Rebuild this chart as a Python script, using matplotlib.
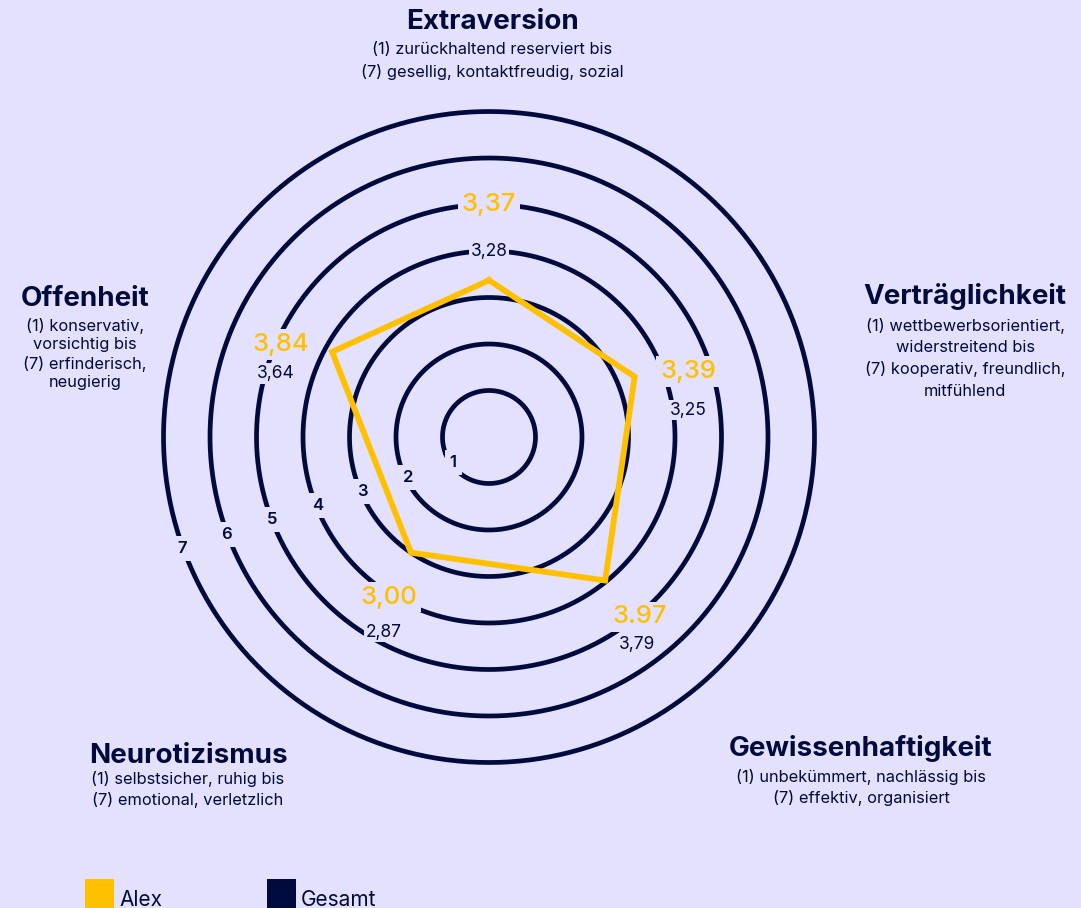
import numpy as np
import matplotlib
matplotlib.use('Agg')
import matplotlib.pyplot as plt
from matplotlib.patches import Rectangle

# data
categories = ['Extraversion', 'Verträglichkeit', 'Gewissenhaftigkeit', 'Neurotizismus', 'Offenheit']
descriptions = [
    ['(1) zurückhaltend reserviert bis', '(7) gesellig, kontaktfreudig, sozial'],
    ['(1) wettbewerbsorientiert,', 'widerstreitend bis', '(7) kooperativ, freundlich,', 'mitfühlend'],
    ['(1) unbekümmert, nachlässig bis', '(7) effektiv, organisiert'],
    ['(1) selbstsicher, ruhig bis', '(7) emotional, verletzlich'],
    ['(1) konservativ,', 'vorsichtig bis', '(7) erfinderisch,', 'neugierig'],
]
alex = [3.37, 3.39, 3.97, 3.00, 3.84]
gesamt = [3.28, 3.25, 3.79, 2.87, 3.64]
alex_text = ['3,37', '3,39', '3.97', '3,00', '3,84']
gesamt_text = ['3,28', '3,25', '3,79', '2,87', '3,64']
rings = [1, 2, 3, 4, 5, 6, 7]

BG = '#E3E1FD'
NAVY = '#000A3C'
GOLD = '#FFC000'
plt.rcParams['font.family'] = ['Inter', 'DejaVu Sans']

W, H = 1081, 908
fig = plt.figure(figsize=(W / 100, H / 100), dpi=100, facecolor=BG)

# polar axes: centre at (489, 437) px, 46.5 px per unit
cx, cy, unit = 489, 437, 46.5
R = 7 * unit
ax = fig.add_axes([(cx - R) / W, (H - cy - R) / H, 2 * R / W, 2 * R / H], projection='polar')
ax.set_ylim(0, 7)
ax.set_axis_off()
ax.patch.set_alpha(0)

# axis directions as they sit in the picture
axis_deg = [90, 22.5, -51, -124, 151.5]
theta = np.deg2rad(axis_deg)

# ring seam hidden under the ring-number boxes
t0 = np.deg2rad(199)
t = np.linspace(t0, t0 + 2 * np.pi + 0.05, 600)
for k in rings:
    ax.plot(t, np.full_like(t, k), color=NAVY, lw=3.4, solid_capstyle='butt',
            clip_on=False, zorder=2)

ax.plot(np.append(theta, theta[0]), alex + alex[:1], color=GOLD, lw=4.2,
        solid_joinstyle='miter', clip_on=False, zorder=4)

# ring numbers
for k in rings:
    ax.annotate(str(k), xy=(np.deg2rad(197.5), k * 1.02), xytext=(6.7, -8.4),
                textcoords='offset points', ha='center', va='center', fontsize=12,
                color=NAVY, fontweight='semibold', zorder=3, annotation_clip=False,
                bbox=dict(boxstyle='square,pad=0.3', fc=BG, ec='none'))

# value labels
lab_deg = [90, 18.3, -50, -122, 156]
lab_r = [4.99, 4.51, 5.05, 4.06, 4.89]
ges_off = [(0, -47), (0, -39), (-3, -28), (-5, -35), (-6, -29)]
for i in range(len(categories)):
    ax.annotate(alex_text[i], xy=(np.deg2rad(lab_deg[i]), lab_r[i]), ha='center', va='center',
                fontsize=18.5, color=GOLD, fontweight='medium', zorder=5,
                bbox=dict(boxstyle='square,pad=0.15', fc=BG, ec='none'))
    ax.annotate(gesamt_text[i], xy=(np.deg2rad(lab_deg[i]), lab_r[i]),
                xytext=(ges_off[i][0] * 0.72, ges_off[i][1] * 0.72), textcoords='offset points',
                ha='center', va='center', fontsize=12.5, color=NAVY, zorder=5,
                bbox=dict(boxstyle='square,pad=0.1', fc=BG, ec='none'))

# category titles and descriptions (pixel positions)
title_pos = [(492, 22), (965, 297), (861, 748), (188, 756), (85, 299)]
first_desc = [50, 326, 777, 779, 326]
line_gap = [22, 21.7, 21, 21, 19]
for i, name in enumerate(categories):
    x, y = title_pos[i]
    fig.text(x / W, 1 - y / H, name, ha='center', va='center', fontsize=20,
             fontweight='bold', color=NAVY)
    for j, line in enumerate(descriptions[i]):
        yy = first_desc[i] + j * line_gap[i]
        fig.text(x / W, 1 - yy / H, line, ha='center', va='center', fontsize=11.8,
                 color=NAVY)

# legend
for x0, col, name in [(85, GOLD, 'Alex'), (267, NAVY, 'Gesamt')]:
    fig.patches.append(Rectangle((x0 / W, 0), 29 / W, 29 / H, transform=fig.transFigure,
                                 fc=col, ec='none'))
    fig.text((x0 + 34) / W, 1 - 906 / H, name, ha='left', va='baseline', fontsize=15,
             color=NAVY)

fig.savefig('out.png', dpi=100, facecolor=BG)
